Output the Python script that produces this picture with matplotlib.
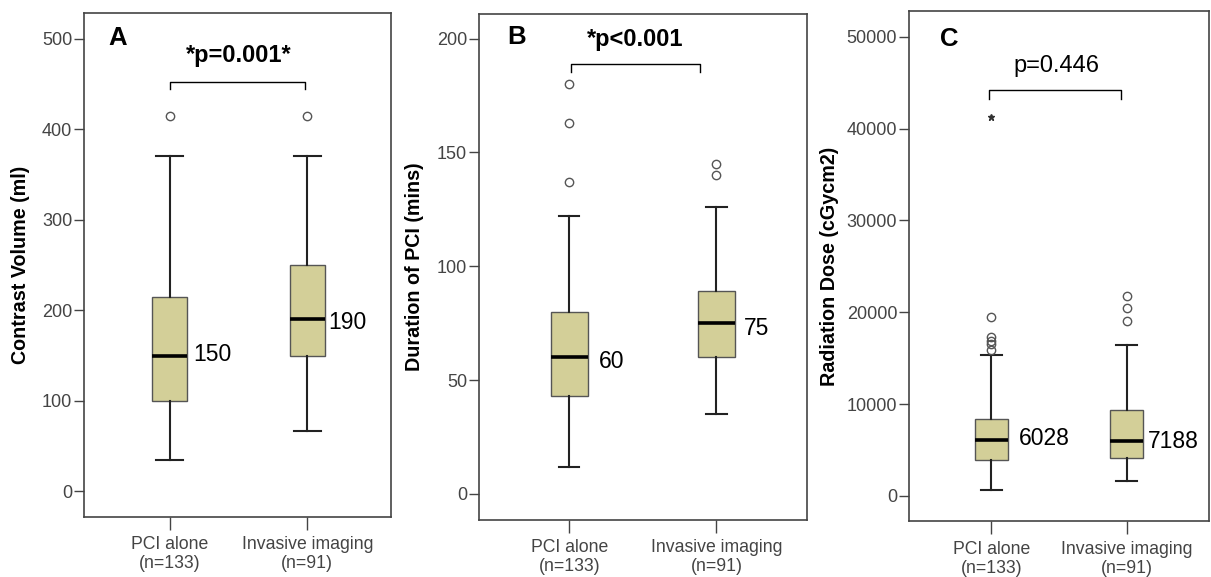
import matplotlib
matplotlib.use("Agg")
import matplotlib.pyplot as plt

plt.rcParams['font.family'] = ['Liberation Sans', 'DejaVu Sans']

groups = ['PCI alone\n(n=133)', 'Invasive imaging\n(n=91)']

# A - contrast volume (ml)
contrast_low = [35, 67]
contrast_q1 = [100, 150]
contrast_med = [150, 190]
contrast_q3 = [215, 250]
contrast_high = [370, 370]
contrast_out = [[415], [415]]
contrast_labels = ['150', '190']

# B - duration of PCI (mins)
duration_low = [12, 35]
duration_q1 = [43, 60]
duration_med = [60, 75]
duration_q3 = [80, 89]
duration_high = [122, 126]
duration_out = [[137, 163, 180], [140, 145]]
duration_labels = ['60', '75']

# C - radiation dose (cGycm2)
dose_low = [600, 1600]
dose_q1 = [3890, 4090]
dose_med = [6050, 5970]
dose_q3 = [8420, 9380]
dose_high = [15320, 16440]
dose_out = [[15920, 16520, 16920, 17320, 19530], [19000, 20410, 21730]]
dose_extreme = [[41260], []]
dose_labels = ['6028', '7188']

BOX_FILL = '#d3cf98'
GREY = '#444444'


def make_stats(low, q1, med, q3, high, out):
    stats = []
    for i in range(len(low)):
        stats.append({'whislo': low[i], 'q1': q1[i], 'med': med[i],
                      'q3': q3[i], 'whishi': high[i], 'fliers': out[i]})
    return stats


def draw_panel(ax, stats, med_labels, label_pos, capw, ylabel, ylim, yticks,
               letter, letter_pos, ptext, pbold, ptext_pos, bracket):
    ax.bxp(stats, positions=[1, 2], widths=0.25, capwidths=capw,
           patch_artist=True, showfliers=True,
           boxprops=dict(facecolor=BOX_FILL, edgecolor='#555555', linewidth=1.0),
           medianprops=dict(color='black', linewidth=2.6),
           whiskerprops=dict(color='#222222', linewidth=1.5),
           capprops=dict(color='#222222', linewidth=1.5),
           flierprops=dict(marker='o', markersize=6, markerfacecolor='none',
                           markeredgecolor='#555555', markeredgewidth=1.0))
    for i, lab in enumerate(med_labels):
        ax.text(label_pos[i][0], label_pos[i][1], lab, fontsize=16.5,
                ha='left', va='center', color='black')
    ax.set_xlim(0.38, 2.61)
    ax.set_ylim(*ylim)
    ax.set_yticks(yticks)
    ax.set_xticks([1, 2])
    ax.set_xticklabels(groups, fontsize=12.7, color=GREY, linespacing=1.15)
    ax.tick_params(axis='y', labelsize=13, labelcolor=GREY, length=7.5,
                   width=1.0, color=GREY, pad=1)
    ax.tick_params(axis='x', length=9, width=1.0, color=GREY, pad=5)
    ax.set_ylabel(ylabel, fontsize=14.2, fontweight='bold')
    for sp in ax.spines.values():
        sp.set_color(GREY)
        sp.set_linewidth(1.2)
    ax.text(letter_pos[0], letter_pos[1], letter, fontsize=18.5,
            fontweight='bold', ha='center', va='center')
    ax.text(ptext_pos[0], ptext_pos[1], ptext, fontsize=17,
            fontweight='bold' if pbold else 'normal', ha='center', va='center')
    x0, x1, ytop, ytip = bracket
    ax.plot([x0, x0, x1, x1], [ytip, ytop, ytop, ytip], color='black', lw=1.0)


fig = plt.figure(figsize=(12.11, 5.77), dpi=100)

axA = fig.add_axes([0.0694, 0.1045, 0.2535, 0.8726])
draw_panel(axA, make_stats(contrast_low, contrast_q1, contrast_med, contrast_q3,
                           contrast_high, contrast_out),
           contrast_labels, [(1.17, 151), (2.155, 186)], 0.195,
           'Contrast Volume (ml)', (-28, 528), range(0, 501, 100),
           'A', (0.623, 500.8), '*p=0.001*', True, (1.5, 481),
           (1.0, 1.98, 452, 444))
axA.set_xlim(0.378, 2.608)
axA.yaxis.set_label_coords(-0.177, 0.5)

axB = fig.add_axes([0.3955, 0.0993, 0.2709, 0.8771])
draw_panel(axB, make_stats(duration_low, duration_q1, duration_med, duration_q3,
                           duration_high, duration_out),
           duration_labels, [(1.2, 58), (2.19, 72.7)], 0.138,
           'Duration of PCI (mins)', (-11.3, 211), range(0, 201, 50),
           'B', (0.643, 200.8), '*p<0.001', True, (1.45, 199.5),
           (1.01, 1.89, 189, 185.5))
axB.set_xlim(0.386, 2.616)
axB.yaxis.set_label_coords(-0.167, 0.5)

axC = fig.add_axes([0.7506, 0.0962, 0.2477, 0.8847])
draw_panel(axC, make_stats(dose_low, dose_q1, dose_med, dose_q3,
                           dose_high, dose_out),
           dose_labels, [(1.2, 6215), (2.155, 5894)], 0.153,
           'Radiation Dose (cGycm2)', (-2804, 52830), range(0, 50001, 10000),
           'C', (0.684, 49800), 'p=0.446', False, (1.48, 46870),
           (0.985, 1.96, 44200, 43200))
for i, ext in enumerate(dose_extreme):
    if ext:
        axC.plot([i + 1] * len(ext), ext, linestyle='none', marker='*',
                 markersize=5, color='#333333')
axC.set_xlim(0.389, 2.61)
axC.yaxis.set_label_coords(-0.233, 0.5)

fig.savefig('out.png', dpi=100, facecolor='white')
